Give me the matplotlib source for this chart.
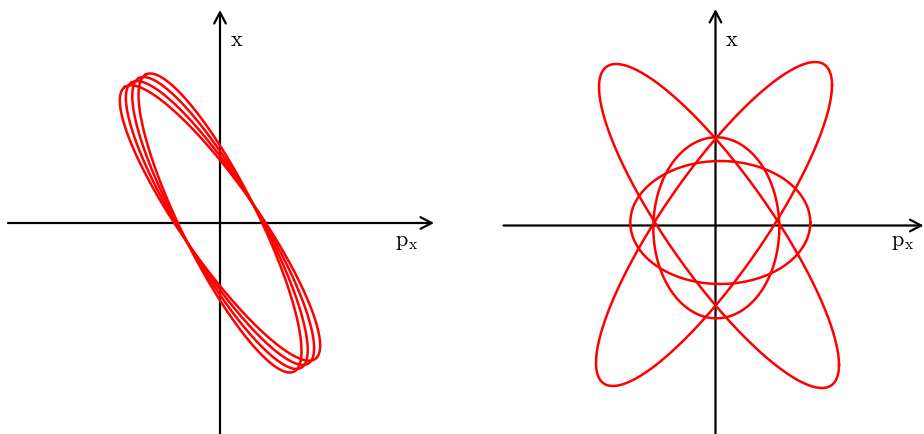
import numpy as np
import matplotlib
matplotlib.use("Agg")
import matplotlib.pyplot as plt

plt.rcParams["mathtext.fontset"] = "cm"

# left: one bunch ellipse seen at four slightly rotated orientations
left_a = [166, 166, 166, 166]          # semi-major axis
left_b = [38, 38, 38, 38]              # semi-minor axis
left_angle = [116.5, 119.3, 122.2, 125.0]   # major axis direction, degrees

# right: filamented bunch, p_x = U cos(t), x = V cos(t + phase)
right_U = [120, 118, 63, 90]
right_V = [162, 162, 90.5, 61.5]
right_phase = [149, 31, 90, 90]
right_cx = [3.5, -1.5, 0.8, 4.8]
right_cy = [-0.5, 1.5, -2.3, 3.0]

RED = "#ff0000"
t = np.linspace(0, 2 * np.pi, 600)

fig = plt.figure(figsize=(9.24, 4.34), dpi=100)
ax_l = fig.add_axes([0, 0, 0.5, 1])
ax_r = fig.add_axes([0.5, 0, 0.5, 1])


def draw_axes(ax, xlim, ylim, h_start, h_end, v_start, v_end, x_lab, p_lab):
    ax.set_xlim(*xlim)
    ax.set_ylim(*ylim)
    ax.axis("off")
    arrow = dict(arrowstyle="->,head_length=0.8,head_width=0.42", lw=1.6,
                 color="black", shrinkA=0, shrinkB=0, mutation_scale=10)
    ax.annotate("", xy=(h_end, 0), xytext=(h_start, 0), arrowprops=arrow, zorder=1)
    ax.annotate("", xy=(0, v_end), xytext=(0, v_start), arrowprops=arrow, zorder=1)
    ax.text(*x_lab, r"$\mathrm{x}$", fontsize=16, ha="center", va="center")
    ax.text(*p_lab, r"$\mathrm{p}_\mathrm{x}$", fontsize=16, ha="center", va="center")


draw_axes(ax_l, (-220, 242), (-211, 223), -212, 214, -215, 213,
          (16.5, 183), (187, -19))
draw_axes(ax_r, (-253.5, 208.5), (-208.5, 225.5), -212, 208, -215, 216.5,
          (16.5, 185), (187, -16))

for a, b, ang in zip(left_a, left_b, left_angle):
    th = np.radians(ang)
    px = a * np.cos(t) * np.cos(th) - b * np.sin(t) * np.sin(th)
    xx = a * np.cos(t) * np.sin(th) + b * np.sin(t) * np.cos(th)
    ax_l.plot(px, xx, color=RED, lw=1.8, zorder=2)

for U, V, ph, cx, cy in zip(right_U, right_V, right_phase, right_cx, right_cy):
    ax_r.plot(cx + U * np.cos(t), cy + V * np.cos(t + np.radians(ph)), color=RED,
              lw=1.8, zorder=2)

fig.savefig("out.png", dpi=100)
